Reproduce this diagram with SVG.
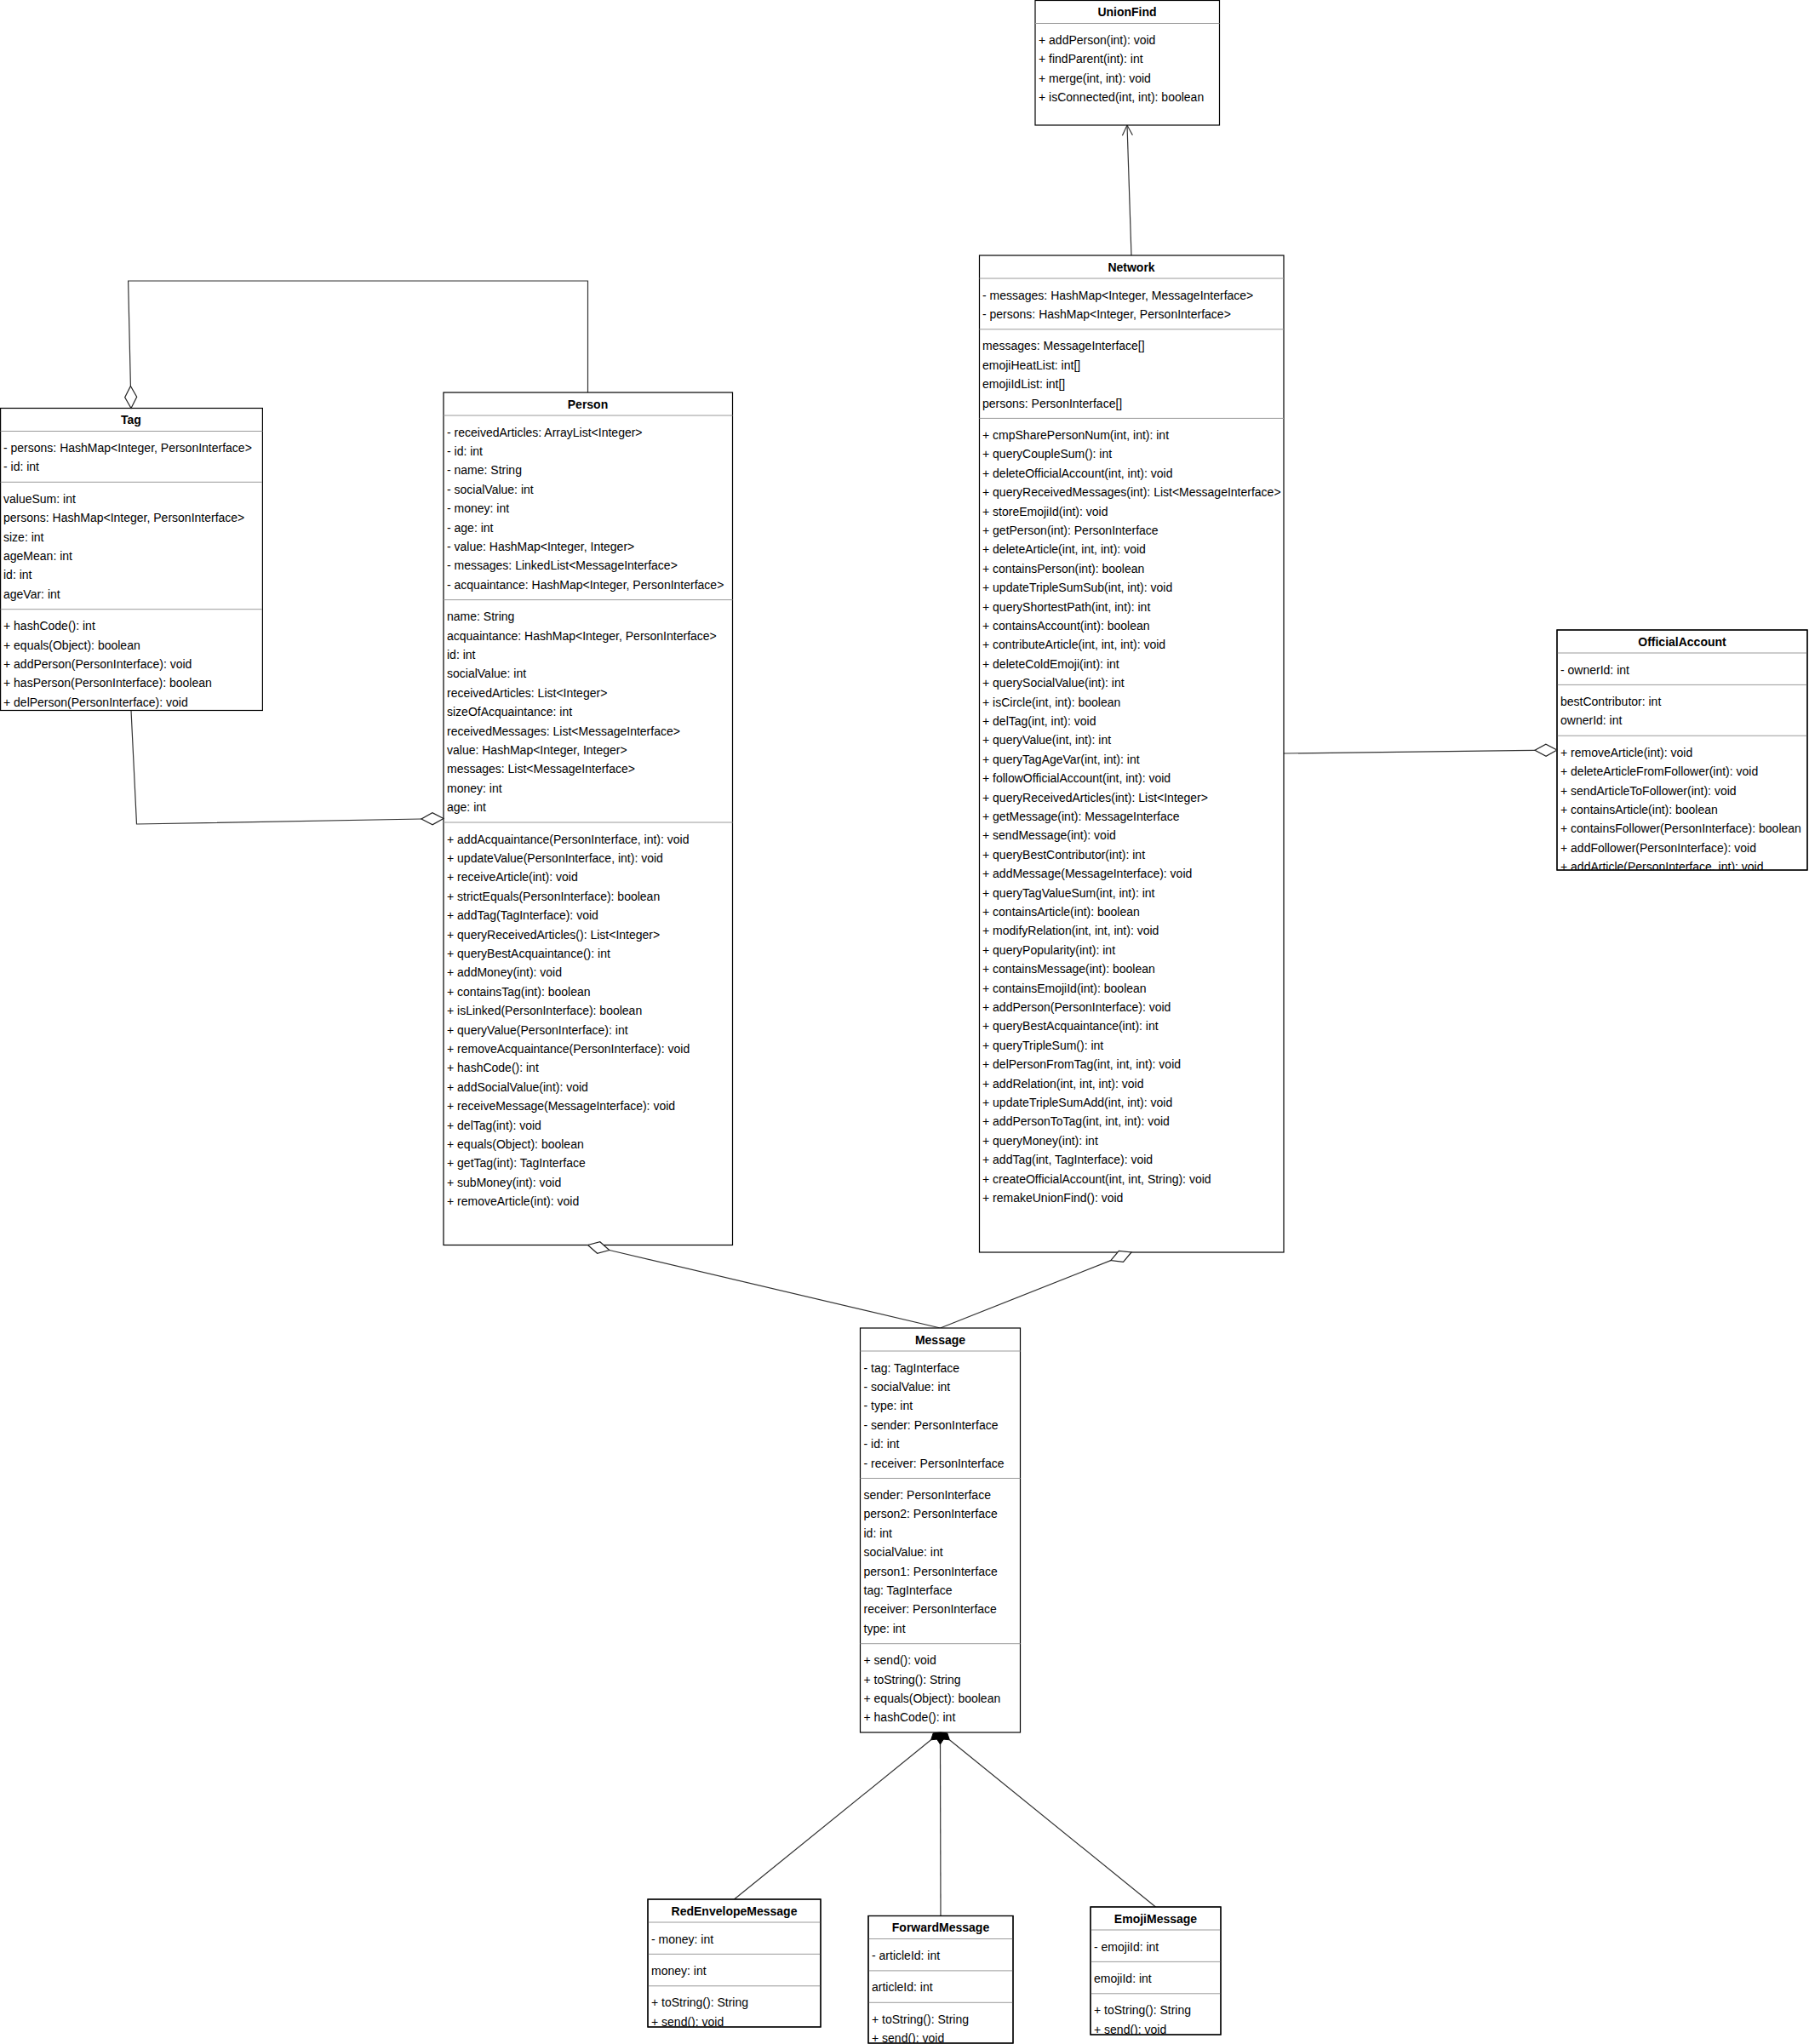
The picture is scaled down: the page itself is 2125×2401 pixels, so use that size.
<svg xmlns="http://www.w3.org/2000/svg" width="2125" height="2401" viewBox="0 0 2125 2401">
<style>
text{font-family:"Liberation Sans",Arial,sans-serif;font-size:14px;fill:#000}
.t{font-weight:bold;text-anchor:middle}
.box{fill:#fff;stroke:#000;stroke-width:1.2}
.sep{stroke:#9a9a9a;stroke-width:1}
.edge{fill:none;stroke:#333;stroke-width:1.2}
.dia{fill:#fff;stroke:#222;stroke-width:1.2}
.fdia{fill:#000;stroke:#000;stroke-width:1}
</style>
<defs>
<clipPath id="cOA"><rect x="1827" y="739" width="294" height="282"/></clipPath>
<clipPath id="cRed"><rect x="760" y="2229" width="203" height="150"/></clipPath>
<clipPath id="cFwd"><rect x="1018" y="2248" width="170" height="149.5"/></clipPath>
<clipPath id="cEmo"><rect x="1279" y="2238" width="153" height="150"/></clipPath>
<clipPath id="cTag"><rect x="0" y="479.5" width="308" height="355"/></clipPath>
</defs>

<g id="connectors">
<polyline class="edge" points="1329,300 1324,147"/>
<polyline class="edge" points="1318.4,159.2 1324,147 1330.4,158.8"/>
<polyline class="edge" points="690.5,461 690.5,330 150.6,330 153.4,453.5"/>
<polyline class="edge" points="154,834.5 160.5,968 495,962"/>
<polyline class="edge" points="1508,885 1803,881.3"/>
<polyline class="edge" points="1104.5,1560 715.8,1468.5"/>
<polyline class="edge" points="1104.5,1560 1304.8,1480.6"/>
<polyline class="edge" points="1093.6,2043.8 862.5,2231"/>
<polyline class="edge" points="1104.5,2049 1105,2250.5"/>
<polyline class="edge" points="1115.4,2043.8 1357.5,2240"/>
</g>

<g id="UnionFind" transform="translate(1,0)">
<rect class="box" x="1215" y="0.5" width="216.5" height="146.5"/>
<text class="t" x="1323" y="19">UnionFind</text>
<line class="sep" x1="1215" y1="27.5" x2="1431.5" y2="27.5"/>
<text x="1219" y="52">+ addPerson(int): void</text>
<text x="1219" y="74.4">+ findParent(int): int</text>
<text x="1219" y="96.8">+ merge(int, int): void</text>
<text x="1219" y="119.2">+ isConnected(int, int): boolean</text>
</g>

<g id="Tag">
<rect class="box" x="0.6" y="479.5" width="307.8" height="355"/>
<text class="t" x="154" y="498">Tag</text>
<line class="sep" x1="0.6" y1="506.5" x2="308.4" y2="506.5"/>
<g clip-path="url(#cTag)">
<text x="4" y="531">- persons: HashMap&lt;Integer, PersonInterface&gt;</text>
<text x="4" y="553.4">- id: int</text>
<line class="sep" x1="0.6" y1="566.3" x2="308.4" y2="566.3"/>
<text x="4" y="590.8">valueSum: int</text>
<text x="4" y="613.2">persons: HashMap&lt;Integer, PersonInterface&gt;</text>
<text x="4" y="635.6">size: int</text>
<text x="4" y="658">ageMean: int</text>
<text x="4" y="680.4">id: int</text>
<text x="4" y="702.8">ageVar: int</text>
<line class="sep" x1="0.6" y1="715.7" x2="308.4" y2="715.7"/>
<text x="4" y="740.2">+ hashCode(): int</text>
<text x="4" y="762.6">+ equals(Object): boolean</text>
<text x="4" y="785">+ addPerson(PersonInterface): void</text>
<text x="4" y="807.4">+ hasPerson(PersonInterface): boolean</text>
<text x="4" y="829.8">+ delPerson(PersonInterface): void</text>
</g>
</g>

<g id="Person" transform="translate(1,1)">
<rect class="box" x="520" y="460" width="339.5" height="1001.5"/>
<text class="t" x="689.5" y="478.5">Person</text>
<line class="sep" x1="520" y1="487" x2="859.5" y2="487"/>
<text x="524" y="511.5">- receivedArticles: ArrayList&lt;Integer&gt;</text>
<text x="524" y="533.9">- id: int</text>
<text x="524" y="556.3">- name: String</text>
<text x="524" y="578.7">- socialValue: int</text>
<text x="524" y="601.1">- money: int</text>
<text x="524" y="623.5">- age: int</text>
<text x="524" y="645.9">- value: HashMap&lt;Integer, Integer&gt;</text>
<text x="524" y="668.3">- messages: LinkedList&lt;MessageInterface&gt;</text>
<text x="524" y="690.7">- acquaintance: HashMap&lt;Integer, PersonInterface&gt;</text>
<line class="sep" x1="520" y1="703.6" x2="859.5" y2="703.6"/>
<text x="524" y="728.1">name: String</text>
<text x="524" y="750.5">acquaintance: HashMap&lt;Integer, PersonInterface&gt;</text>
<text x="524" y="772.9">id: int</text>
<text x="524" y="795.3">socialValue: int</text>
<text x="524" y="817.7">receivedArticles: List&lt;Integer&gt;</text>
<text x="524" y="840.1">sizeOfAcquaintance: int</text>
<text x="524" y="862.5">receivedMessages: List&lt;MessageInterface&gt;</text>
<text x="524" y="884.9">value: HashMap&lt;Integer, Integer&gt;</text>
<text x="524" y="907.3">messages: List&lt;MessageInterface&gt;</text>
<text x="524" y="929.7">money: int</text>
<text x="524" y="952.1">age: int</text>
<line class="sep" x1="520" y1="965" x2="859.5" y2="965"/>
<text x="524" y="989.5">+ addAcquaintance(PersonInterface, int): void</text>
<text x="524" y="1011.9">+ updateValue(PersonInterface, int): void</text>
<text x="524" y="1034.3">+ receiveArticle(int): void</text>
<text x="524" y="1056.7">+ strictEquals(PersonInterface): boolean</text>
<text x="524" y="1079.1">+ addTag(TagInterface): void</text>
<text x="524" y="1101.5">+ queryReceivedArticles(): List&lt;Integer&gt;</text>
<text x="524" y="1123.9">+ queryBestAcquaintance(): int</text>
<text x="524" y="1146.3">+ addMoney(int): void</text>
<text x="524" y="1168.7">+ containsTag(int): boolean</text>
<text x="524" y="1191.1">+ isLinked(PersonInterface): boolean</text>
<text x="524" y="1213.5">+ queryValue(PersonInterface): int</text>
<text x="524" y="1235.9">+ removeAcquaintance(PersonInterface): void</text>
<text x="524" y="1258.3">+ hashCode(): int</text>
<text x="524" y="1280.7">+ addSocialValue(int): void</text>
<text x="524" y="1303.1">+ receiveMessage(MessageInterface): void</text>
<text x="524" y="1325.5">+ delTag(int): void</text>
<text x="524" y="1347.9">+ equals(Object): boolean</text>
<text x="524" y="1370.3">+ getTag(int): TagInterface</text>
<text x="524" y="1392.7">+ subMoney(int): void</text>
<text x="524" y="1415.1">+ removeArticle(int): void</text>
</g>

<g id="Network" transform="translate(2,0)">
<rect class="box" x="1148.5" y="300" width="357.5" height="1171"/>
<text class="t" x="1327" y="318.5">Network</text>
<line class="sep" x1="1148.5" y1="327" x2="1506" y2="327"/>
<text x="1152" y="351.5">- messages: HashMap&lt;Integer, MessageInterface&gt;</text>
<text x="1152" y="373.9">- persons: HashMap&lt;Integer, PersonInterface&gt;</text>
<line class="sep" x1="1148.5" y1="386.8" x2="1506" y2="386.8"/>
<text x="1152" y="411.3">messages: MessageInterface[]</text>
<text x="1152" y="433.7">emojiHeatList: int[]</text>
<text x="1152" y="456.1">emojiIdList: int[]</text>
<text x="1152" y="478.5">persons: PersonInterface[]</text>
<line class="sep" x1="1148.5" y1="491.4" x2="1506" y2="491.4"/>
<text x="1152" y="515.9">+ cmpSharePersonNum(int, int): int</text>
<text x="1152" y="538.3">+ queryCoupleSum(): int</text>
<text x="1152" y="560.7">+ deleteOfficialAccount(int, int): void</text>
<text x="1152" y="583.1">+ queryReceivedMessages(int): List&lt;MessageInterface&gt;</text>
<text x="1152" y="605.5">+ storeEmojiId(int): void</text>
<text x="1152" y="627.9">+ getPerson(int): PersonInterface</text>
<text x="1152" y="650.3">+ deleteArticle(int, int, int): void</text>
<text x="1152" y="672.7">+ containsPerson(int): boolean</text>
<text x="1152" y="695.1">+ updateTripleSumSub(int, int): void</text>
<text x="1152" y="717.5">+ queryShortestPath(int, int): int</text>
<text x="1152" y="739.9">+ containsAccount(int): boolean</text>
<text x="1152" y="762.3">+ contributeArticle(int, int, int): void</text>
<text x="1152" y="784.7">+ deleteColdEmoji(int): int</text>
<text x="1152" y="807.1">+ querySocialValue(int): int</text>
<text x="1152" y="829.5">+ isCircle(int, int): boolean</text>
<text x="1152" y="851.9">+ delTag(int, int): void</text>
<text x="1152" y="874.3">+ queryValue(int, int): int</text>
<text x="1152" y="896.7">+ queryTagAgeVar(int, int): int</text>
<text x="1152" y="919.1">+ followOfficialAccount(int, int): void</text>
<text x="1152" y="941.5">+ queryReceivedArticles(int): List&lt;Integer&gt;</text>
<text x="1152" y="963.9">+ getMessage(int): MessageInterface</text>
<text x="1152" y="986.3">+ sendMessage(int): void</text>
<text x="1152" y="1008.7">+ queryBestContributor(int): int</text>
<text x="1152" y="1031.1">+ addMessage(MessageInterface): void</text>
<text x="1152" y="1053.5">+ queryTagValueSum(int, int): int</text>
<text x="1152" y="1075.9">+ containsArticle(int): boolean</text>
<text x="1152" y="1098.3">+ modifyRelation(int, int, int): void</text>
<text x="1152" y="1120.7">+ queryPopularity(int): int</text>
<text x="1152" y="1143.1">+ containsMessage(int): boolean</text>
<text x="1152" y="1165.5">+ containsEmojiId(int): boolean</text>
<text x="1152" y="1187.9">+ addPerson(PersonInterface): void</text>
<text x="1152" y="1210.3">+ queryBestAcquaintance(int): int</text>
<text x="1152" y="1232.7">+ queryTripleSum(): int</text>
<text x="1152" y="1255.1">+ delPersonFromTag(int, int, int): void</text>
<text x="1152" y="1277.5">+ addRelation(int, int, int): void</text>
<text x="1152" y="1299.9">+ updateTripleSumAdd(int, int): void</text>
<text x="1152" y="1322.3">+ addPersonToTag(int, int, int): void</text>
<text x="1152" y="1344.7">+ queryMoney(int): int</text>
<text x="1152" y="1367.1">+ addTag(int, TagInterface): void</text>
<text x="1152" y="1389.5">+ createOfficialAccount(int, int, String): void</text>
<text x="1152" y="1411.9">+ remakeUnionFind(): void</text>
</g>

<g id="OfficialAccount" transform="translate(2,1)">
<rect class="box" x="1827" y="739" width="294" height="282"/>
<text class="t" x="1974" y="757.5">OfficialAccount</text>
<line class="sep" x1="1827" y1="766" x2="2121" y2="766"/>
<g clip-path="url(#cOA)">
<text x="1831" y="790.5">- ownerId: int</text>
<line class="sep" x1="1827" y1="803.4" x2="2121" y2="803.4"/>
<text x="1831" y="827.9">bestContributor: int</text>
<text x="1831" y="850.3">ownerId: int</text>
<line class="sep" x1="1827" y1="863.2" x2="2121" y2="863.2"/>
<text x="1831" y="887.7">+ removeArticle(int): void</text>
<text x="1831" y="910.1">+ deleteArticleFromFollower(int): void</text>
<text x="1831" y="932.5">+ sendArticleToFollower(int): void</text>
<text x="1831" y="954.9">+ containsArticle(int): boolean</text>
<text x="1831" y="977.3">+ containsFollower(PersonInterface): boolean</text>
<text x="1831" y="999.7">+ addFollower(PersonInterface): void</text>
<text x="1831" y="1022.1">+ addArticle(PersonInterface, int): void</text>
</g>
<rect x="1827" y="739" width="294" height="282" fill="none" stroke="#000" stroke-width="1.2"/>
</g>

<g id="Message" transform="translate(1.5,1.5)">
<rect class="box" x="1009" y="1558.5" width="188" height="475"/>
<text class="t" x="1103" y="1577">Message</text>
<line class="sep" x1="1009" y1="1585.5" x2="1197" y2="1585.5"/>
<text x="1013" y="1610">- tag: TagInterface</text>
<text x="1013" y="1632.4">- socialValue: int</text>
<text x="1013" y="1654.8">- type: int</text>
<text x="1013" y="1677.2">- sender: PersonInterface</text>
<text x="1013" y="1699.6">- id: int</text>
<text x="1013" y="1722">- receiver: PersonInterface</text>
<line class="sep" x1="1009" y1="1735" x2="1197" y2="1735"/>
<text x="1013" y="1759.5">sender: PersonInterface</text>
<text x="1013" y="1781.9">person2: PersonInterface</text>
<text x="1013" y="1804.3">id: int</text>
<text x="1013" y="1826.7">socialValue: int</text>
<text x="1013" y="1849.1">person1: PersonInterface</text>
<text x="1013" y="1871.5">tag: TagInterface</text>
<text x="1013" y="1893.9">receiver: PersonInterface</text>
<text x="1013" y="1916.3">type: int</text>
<line class="sep" x1="1009" y1="1929.2" x2="1197" y2="1929.2"/>
<text x="1013" y="1953.7">+ send(): void</text>
<text x="1013" y="1976.1">+ toString(): String</text>
<text x="1013" y="1998.5">+ equals(Object): boolean</text>
<text x="1013" y="2020.9">+ hashCode(): int</text>
</g>

<g id="RedEnvelopeMessage" transform="translate(1,2)">
<rect class="box" x="760" y="2229" width="203" height="150"/>
<text class="t" x="861.5" y="2247.5">RedEnvelopeMessage</text>
<line class="sep" x1="760" y1="2256" x2="963" y2="2256"/>
<g clip-path="url(#cRed)">
<text x="764" y="2280.5">- money: int</text>
<line class="sep" x1="760" y1="2293.4" x2="963" y2="2293.4"/>
<text x="764" y="2317.9">money: int</text>
<line class="sep" x1="760" y1="2330.8" x2="963" y2="2330.8"/>
<text x="764" y="2355.3">+ toString(): String</text>
<text x="764" y="2377.7">+ send(): void</text>
</g>
<rect x="760" y="2229" width="203" height="150" fill="none" stroke="#000" stroke-width="1.2"/>
</g>

<g id="ForwardMessage" transform="translate(2,2.5)">
<rect class="box" x="1018" y="2248" width="170" height="149.5"/>
<text class="t" x="1103" y="2266.5">ForwardMessage</text>
<line class="sep" x1="1018" y1="2275" x2="1188" y2="2275"/>
<g clip-path="url(#cFwd)">
<text x="1022" y="2299.5">- articleId: int</text>
<line class="sep" x1="1018" y1="2312.4" x2="1188" y2="2312.4"/>
<text x="1022" y="2336.9">articleId: int</text>
<line class="sep" x1="1018" y1="2349.8" x2="1188" y2="2349.8"/>
<text x="1022" y="2374.3">+ toString(): String</text>
<text x="1022" y="2396.7">+ send(): void</text>
</g>
<rect x="1018" y="2248" width="170" height="149.5" fill="none" stroke="#000" stroke-width="1.2"/>
</g>

<g id="EmojiMessage" transform="translate(2,2)">
<rect class="box" x="1279" y="2238" width="153" height="150"/>
<text class="t" x="1355.5" y="2256.5">EmojiMessage</text>
<line class="sep" x1="1279" y1="2265" x2="1432" y2="2265"/>
<g clip-path="url(#cEmo)">
<text x="1283" y="2289.5">- emojiId: int</text>
<line class="sep" x1="1279" y1="2302.4" x2="1432" y2="2302.4"/>
<text x="1283" y="2326.9">emojiId: int</text>
<line class="sep" x1="1279" y1="2339.8" x2="1432" y2="2339.8"/>
<text x="1283" y="2364.3">+ toString(): String</text>
<text x="1283" y="2386.7">+ send(): void</text>
</g>
<rect x="1279" y="2238" width="153" height="150" fill="none" stroke="#000" stroke-width="1.2"/>
</g>

<g id="markers">
<polygon class="dia" points="154,479.5 160.7,466.3 153.4,453.5 146.7,466.7"/>
<polygon class="dia" points="521,961.5 508.1,968.7 495,962 507.9,954.7"/>
<polygon class="dia" points="1829,881 1816.1,888.2 1803,881.3 1815.9,874.2"/>
<polygon class="dia" points="690.5,1462.5 701.6,1472.3 715.8,1468.5 704.8,1458.7"/>
<polygon class="dia" points="1329,1471 1319.5,1482.3 1304.8,1480.6 1314.3,1469.3"/>
<polygon class="fdia" points="1104.5,2035 1101.9,2042.9 1093.6,2043.8 1096.2,2035.9"/>
<polygon class="fdia" points="1104.5,2035 1109,2042 1104.5,2049 1100,2042"/>
<polygon class="fdia" points="1104.5,2035 1107.1,2042.9 1115.4,2043.8 1112.8,2035.9"/>
</g>
</svg>
